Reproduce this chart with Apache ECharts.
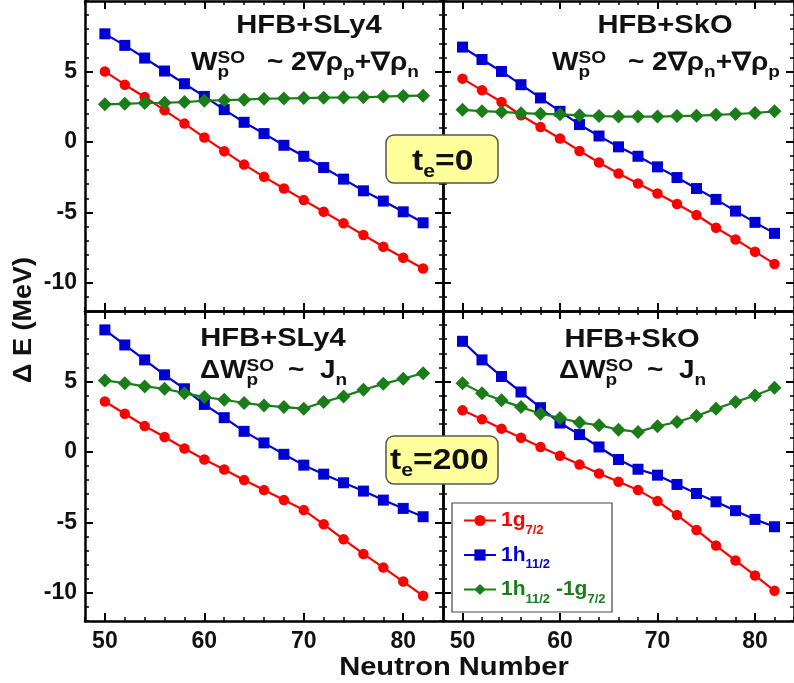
<!DOCTYPE html>
<html>
<head>
<meta charset="utf-8">
<script src="https://cdn.jsdelivr.net/npm/echarts@6/dist/echarts.min.js"></script>
</head>
<body style="margin:0">
<div id="container" style="width:794px;height:683px"></div>
<script>
// neutron numbers (x)
var neutron = [50, 52, 54, 56, 58, 60, 62, 64, 66, 68, 70, 72, 74, 76, 78, 80, 82];

// HFB+SLy4, te=0
var tl_g = [5.00, 4.06, 3.19, 2.24, 1.30, 0.31, -0.66, -1.61, -2.48, -3.31, -4.13, -4.96, -5.78, -6.61, -7.44, -8.22, -8.99];
var tl_h = [7.67, 6.85, 5.95, 5.03, 4.13, 3.23, 2.29, 1.39, 0.59, -0.24, -1.02, -1.82, -2.64, -3.47, -4.20, -4.96, -5.74];
var tl_d = [2.67, 2.70, 2.76, 2.78, 2.83, 2.92, 2.96, 3.00, 3.07, 3.08, 3.11, 3.14, 3.15, 3.17, 3.22, 3.26, 3.28];
// HFB+SkO, te=0
var tr_g = [4.49, 3.66, 2.83, 1.89, 1.06, 0.24, -0.64, -1.46, -2.24, -2.95, -3.66, -4.41, -5.19, -6.09, -6.92, -7.79, -8.66];
var tr_h = [6.73, 5.85, 5.00, 4.06, 3.12, 2.17, 1.23, 0.42, -0.35, -1.02, -1.77, -2.53, -3.31, -4.08, -4.91, -5.71, -6.49];
var tr_d = [2.28, 2.18, 2.13, 2.04, 1.99, 1.96, 1.89, 1.84, 1.80, 1.80, 1.80, 1.83, 1.86, 1.92, 1.98, 2.05, 2.17];
// HFB+SLy4, te=200
var bl_g = [3.58, 2.71, 1.84, 1.06, 0.24, -0.54, -1.25, -2.00, -2.71, -3.42, -4.13, -5.14, -6.20, -7.24, -8.21, -9.20, -10.21];
var bl_h = [8.66, 7.59, 6.53, 5.47, 4.48, 3.37, 2.43, 1.46, 0.64, -0.17, -0.94, -1.58, -2.19, -2.78, -3.42, -4.01, -4.60];
var bl_d = [5.07, 4.88, 4.65, 4.48, 4.17, 3.89, 3.70, 3.47, 3.30, 3.18, 3.07, 3.54, 3.94, 4.41, 4.83, 5.19, 5.59];
// HFB+SkO, te=200
var br_g = [2.95, 2.31, 1.65, 1.01, 0.35, -0.28, -0.90, -1.53, -2.12, -2.71, -3.49, -4.48, -5.54, -6.65, -7.71, -8.77, -9.86];
var br_h = [7.85, 6.53, 5.35, 4.25, 3.14, 2.05, 1.23, 0.35, -0.54, -1.23, -1.65, -2.31, -2.95, -3.54, -4.17, -4.79, -5.31];
var br_d = [4.88, 4.17, 3.66, 3.18, 2.71, 2.41, 2.08, 1.89, 1.58, 1.42, 1.82, 2.12, 2.55, 3.07, 3.54, 4.01, 4.55];

var xMajor = [50, 60, 70, 80];
var yMajor = [-10, -5, 0, 5];
var names = ['1g7/2', '1h11/2', '1h11/2-1g7/2'];

var RED = '#ff0000', BLUE = '#0000d4', GREEN = '#1a7d1a';
var FONT = '"Liberation Sans", Arial, sans-serif';
var SX = 1.12;

var panels = [
  {g: tl_g, h: tl_h, d: tl_d, left: 85, top: 1, xl: false, yl: true},
  {g: tr_g, h: tr_h, d: tr_d, left: 443, top: 1, xl: false, yl: false},
  {g: bl_g, h: bl_h, d: bl_d, left: 85, top: 311, xl: true, yl: true},
  {g: br_g, h: br_h, d: br_d, left: 443, top: 311, xl: true, yl: false}
];

function pairs(ys) {
  return neutron.map(function (x, i) { return [x, ys[i]]; });
}

var grids = [], xAxes = [], yAxes = [], series = [];
var lab = {fontSize: 23, fontWeight: 'bold', color: '#111', fontFamily: FONT};

panels.forEach(function (p, i) {
  grids.push({left: p.left, top: p.top, width: 358, height: 310});
  var xi = xAxes.length, yi = yAxes.length;
  ['bottom', 'top'].forEach(function (pos) {
    xAxes.push({gridIndex: i, type: 'value', position: pos, min: 48, max: 84, interval: 2,
      axisLine: {onZero: false, lineStyle: {color: '#000', width: 2.5}},
      axisTick: {inside: true, length: 4, lineStyle: {color: '#000', width: 1.5}},
      axisLabel: {show: false}, splitLine: {show: false}});
    xAxes.push({gridIndex: i, type: 'value', position: pos, min: 48, max: 84,
      axisLine: {show: false, onZero: false},
      axisTick: {inside: true, length: 8, customValues: xMajor, lineStyle: {color: '#000', width: 2}},
      axisLabel: Object.assign({show: pos === 'bottom' && p.xl, customValues: xMajor, margin: 9}, lab),
      splitLine: {show: false}});
  });
  ['left', 'right'].forEach(function (pos) {
    yAxes.push({gridIndex: i, type: 'value', position: pos, min: -12, max: 10, interval: 1,
      axisLine: {onZero: false, lineStyle: {color: '#000', width: 2.5}},
      axisTick: {inside: true, length: 4, lineStyle: {color: '#000', width: 1.5}},
      axisLabel: {show: false}, splitLine: {show: false}});
    yAxes.push({gridIndex: i, type: 'value', position: pos, min: -12, max: 10,
      axisLine: {show: false, onZero: false},
      axisTick: {inside: true, length: 8, customValues: yMajor, lineStyle: {color: '#000', width: 2}},
      axisLabel: Object.assign({show: pos === 'left' && p.yl, customValues: yMajor, margin: 8}, lab),
      splitLine: {show: false}});
  });
  var common = {type: 'line', xAxisIndex: xi, yAxisIndex: yi, animation: false};
  series.push(Object.assign({name: names[0], data: pairs(p.g), symbol: 'circle', symbolSize: 10.5,
    itemStyle: {color: RED}, lineStyle: {color: RED, width: 2.2}}, common));
  series.push(Object.assign({name: names[1], data: pairs(p.h), symbol: 'rect', symbolSize: 11,
    itemStyle: {color: BLUE}, lineStyle: {color: BLUE, width: 2.2}}, common));
  series.push(Object.assign({name: names[2], data: pairs(p.d), symbol: 'diamond', symbolSize: 14,
    itemStyle: {color: GREEN}, lineStyle: {color: GREEN, width: 2.2}}, common));
});

// text helpers
var ctx = document.createElement('canvas').getContext('2d');
function tw(t, size) {
  ctx.font = 'bold ' + size + 'px ' + FONT;
  return ctx.measureText(t).width * SX;
}
function txt(t, x, base, size, align, color) {
  return {type: 'text', x: x, y: base - 0.34 * size, scaleX: SX, z: 60,
    style: {text: t, fontSize: size, fontWeight: 'bold', fontFamily: FONT, fill: color || '#111',
      align: align || 'left', verticalAlign: 'middle'}};
}
function formula(x, base, parts, main, small) {
  var out = [], cx = x, start = x, end = x;
  parts.forEach(function (p) {
    var size = p.k ? small : main;
    var b = base + (p.k === 'sup' ? -8 : p.k === 'sub' ? 6 : 0);
    if (p.stack) cx = start;
    else cx = end + (p.gap || 0);
    start = cx;
    out.push(txt(p.t, cx, b, size));
    end = Math.max(p.stack ? end : 0, cx + tw(p.t, size));
  });
  return out;
}

var gfx = [];
gfx.push(txt('HFB+SLy4', 309, 35, 26, 'center'));
gfx.push(txt('HFB+SkO', 665, 35, 26, 'center'));
gfx.push(txt('HFB+SLy4', 273, 348, 26, 'center'));
gfx.push(txt('HFB+SkO', 632, 349, 26, 'center'));
gfx = gfx.concat(formula(191, 72, [{t: 'W'}, {t: 'SO', k: 'sup'}, {t: 'p', k: 'sub', stack: 1},
  {t: '~ 2∇ρ', gap: 22}, {t: 'p', k: 'sub'}, {t: '+∇ρ'}, {t: 'n', k: 'sub'}], 25, 17));
gfx = gfx.concat(formula(552, 72, [{t: 'W'}, {t: 'SO', k: 'sup'}, {t: 'p', k: 'sub', stack: 1},
  {t: '~ 2∇ρ', gap: 22}, {t: 'n', k: 'sub'}, {t: '+∇ρ'}, {t: 'p', k: 'sub'}], 25, 17));
gfx = gfx.concat(formula(200, 380, [{t: 'ΔW'}, {t: 'SO', k: 'sup'}, {t: 'p', k: 'sub', stack: 1},
  {t: '~  J', gap: 14}, {t: 'n', k: 'sub'}], 25, 17));
gfx = gfx.concat(formula(559, 380, [{t: 'ΔW'}, {t: 'SO', k: 'sup'}, {t: 'p', k: 'sub', stack: 1},
  {t: '~  J', gap: 14}, {t: 'n', k: 'sub'}], 25, 17));

// te boxes
[[135, 172, '=0', 412], [436, 471, '=200', 390]].forEach(function (b) {
  gfx.push({type: 'rect', z: 50, shape: {x: 386, y: b[0], width: 112, height: 48, r: 8},
    style: {fill: '#ffff9c', stroke: '#555', lineWidth: 1.5}});
  gfx = gfx.concat(formula(b[3], b[1], [{t: 't'}, {t: 'e', k: 'sub'}, {t: b[2]}], 30, 19));
});

// legend frame
gfx.push({type: 'rect', z: 3, shape: {x: 452, y: 503, width: 160, height: 109},
  style: {fill: '#fff', stroke: '#444', lineWidth: 1.2}});

// axis names
gfx.push({type: 'text', x: 24, y: 320, rotation: Math.PI / 2, scaleX: 1.08, z: 60,
  style: {text: 'Δ E (MeV)', fontSize: 25, fontWeight: 'bold', fontFamily: FONT, fill: '#111',
    align: 'center', verticalAlign: 'middle'}});
gfx.push(txt('Neutron Number', 454, 677, 26, 'center'));

function rs(color, size, lh, va, pad) {
  return {color: color, fontSize: size, fontWeight: 'bold', fontFamily: FONT, lineHeight: lh,
    verticalAlign: va, padding: pad || 0};
}

var myChart = echarts.init(document.getElementById('container'));
myChart.setOption({
  animation: false,
  backgroundColor: '#fff',
  grid: grids,
  xAxis: xAxes,
  yAxis: yAxes,
  legend: {
    orient: 'vertical', left: 463, top: 510, padding: 0, itemWidth: 32, itemHeight: 14, itemGap: 8,
    selectedMode: false, data: names, z: 5,
    formatter: function (n) {
      if (n === names[0]) return '{ra|1g}{rs|7/2}';
      if (n === names[1]) return '{ba|1h}{bs|11/2}';
      return '{ga|1h}{gs|11/2}{ga| -1g}{gs|7/2}';
    },
    textStyle: {
      rich: {
        ra: rs(RED, 21, 32, 'middle'), rs: rs(RED, 13, 13, 'bottom', [6, 0, 0, 0]),
        ba: rs(BLUE, 21, 32, 'middle'), bs: rs(BLUE, 13, 13, 'bottom', [6, 0, 0, 0]),
        ga: rs(GREEN, 21, 32, 'middle'), gs: rs(GREEN, 13, 13, 'bottom', [6, 0, 0, 0])
      }
    }
  },
  graphic: gfx,
  series: series
});
</script>
</body>
</html>
